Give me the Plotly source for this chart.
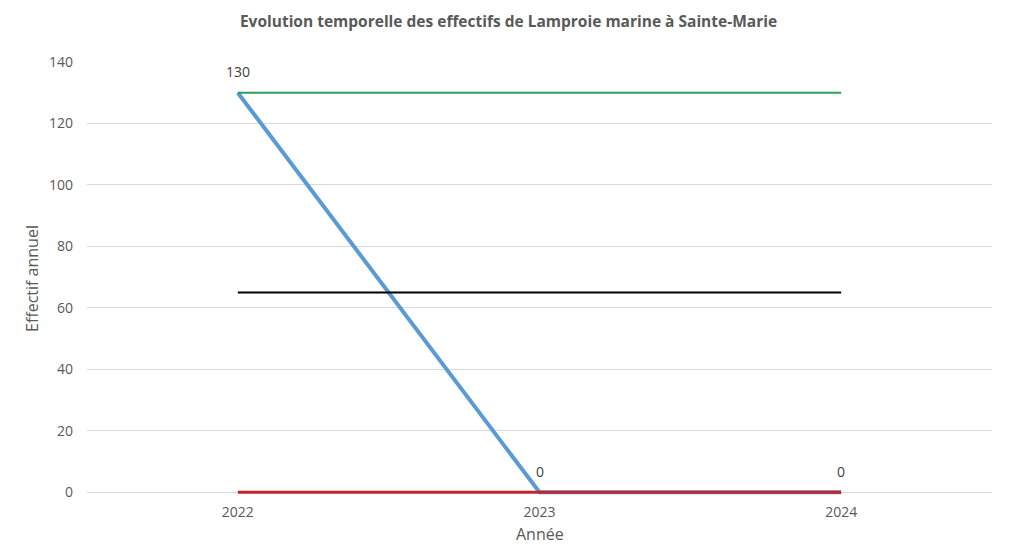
import plotly.graph_objects as go

years = ["2022", "2023", "2024"]
effectif = [130, 0, 0]
maximum = [130, 130, 130]
moyenne = [65, 65, 65]
minimum = [0, 0, 0]
y_ticks = [0, 20, 40, 60, 80, 100, 120, 140]

grey = "#595959"
font_family = "Open Sans, Liberation Sans, sans-serif"

fig = go.Figure()
fig.add_trace(go.Scatter(x=years, y=effectif, mode="lines", line=dict(color="#5B9BD5", width=4), name="Effectif"))
fig.add_trace(go.Scatter(x=years, y=maximum, mode="lines", line=dict(color="#2E9E5B", width=2), name="Max"))
fig.add_trace(go.Scatter(x=years, y=moyenne, mode="lines", line=dict(color="#000000", width=2), name="Moyenne"))
fig.add_trace(go.Scatter(x=years, y=minimum, mode="lines", line=dict(color="#C0252D", width=3), name="Min"))

for i, (x, y) in enumerate(zip(years, effectif)):
    fig.add_annotation(x=i, y=y, xref="x", yref="y", text=str(y), showarrow=False, yshift=21,
                       font=dict(size=14, color="#404040", family=font_family))

# axis titles
fig.add_annotation(text="Effectif annuel", xref="paper", yref="paper", x=0, y=0.5, xshift=-55,
                   textangle=-90, showarrow=False, xanchor="center", yanchor="middle",
                   font=dict(size=16, color=grey, family=font_family))
fig.add_annotation(text="Année", xref="paper", yref="paper", x=0.5, y=0, yshift=-38,
                   showarrow=False, xanchor="center", yanchor="middle",
                   font=dict(size=16, color=grey, family=font_family))

fig.update_layout(
    width=1017, height=545,
    paper_bgcolor="white", plot_bgcolor="white",
    margin=dict(l=87, r=25, t=62, b=49),
    showlegend=False,
    title=dict(text="<b>Evolution temporelle des effectifs de Lamproie marine à Sainte-Marie</b>",
               x=0.5, xanchor="center", y=0.96, yanchor="middle",
               font=dict(size=15.5, color=grey, family=font_family)),
    font=dict(family=font_family, color=grey, size=14),
)
fig.update_xaxes(type="category", range=[-0.5, 2.5], showgrid=False, showline=False,
                 ticks="", tickfont=dict(size=14, color=grey), automargin=False,
                 ticklabelstandoff=6)
fig.update_yaxes(range=[-1.2, 140], tickvals=y_ticks, showgrid=True, gridcolor="#D9D9D9", gridwidth=1,
                 zeroline=True, zerolinecolor="#D9D9D9", zerolinewidth=1, showline=False, ticks="",
                 tickfont=dict(size=14, color=grey), automargin=False, ticklabelstandoff=13)

fig.write_html("out.html", post_script="document.body.style.margin='0';",
               config={"displayModeBar": False})
